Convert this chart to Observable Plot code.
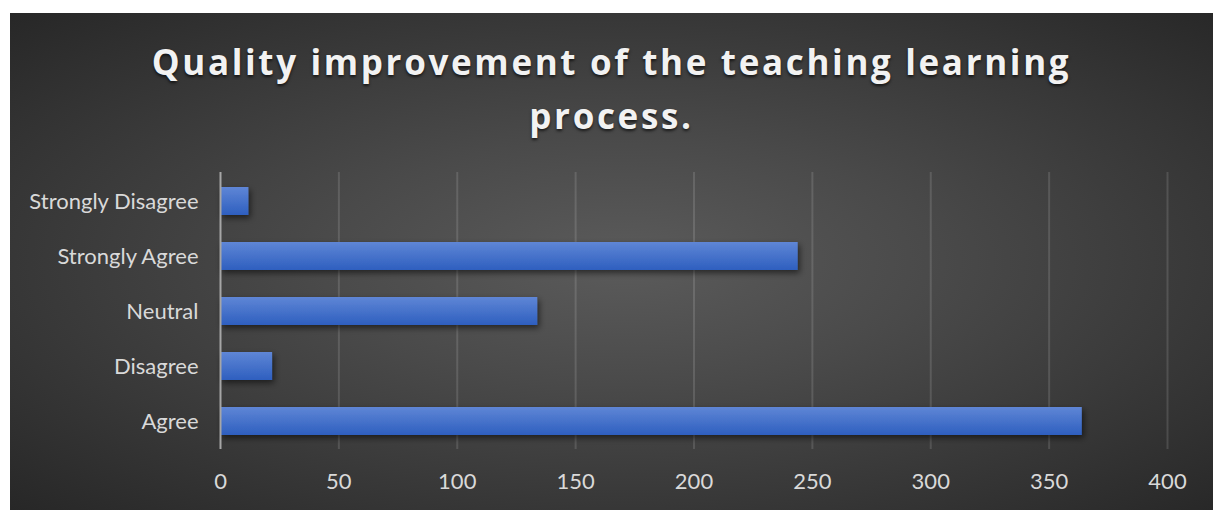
<!DOCTYPE html>
<html>
<head>
<meta charset="utf-8">
<script src="https://cdn.jsdelivr.net/npm/d3@7"></script>
<script src="https://cdn.jsdelivr.net/npm/@observablehq/plot@0.6"></script>
<style>
  html, body { margin: 0; padding: 0; background: #ffffff; }
  #page { position: relative; width: 1213px; height: 510px; overflow: hidden; background: #ffffff; }
  #panel { position: absolute; left: 10px; top: 13px; width: 1203px; height: 497px;
    background: radial-gradient(ellipse farthest-corner at 51% 50%, #5b5b5b 0%, #4a4a4a 35%, #272727 100%); }
  #title { position: absolute; left: 10px; top: 35px; width: 1203px; text-align: center;
    font-family: "Open Sans", sans-serif; font-weight: 700; font-size: 35px; line-height: 54px;
    letter-spacing: 2.65px; color: #f2f2f2; text-shadow: 0 2px 3px rgba(0,0,0,0.65); }
  #chart { position: absolute; left: 0; top: 150px; }
</style>
</head>
<body>
<div id="page">
  <div id="panel"></div>
  <div id="title">Quality improvement of the teaching learning<br>process.</div>
  <div id="chart"></div>
</div>
<script>
const categories = ["Agree", "Disagree", "Neutral", "Strongly Agree", "Strongly Disagree"];
const values = [364, 22, 134, 244, 12];
const xTicks = [0, 50, 100, 150, 200, 250, 300, 350, 400];
const gridTicks = [50, 100, 150, 200, 250, 300, 350, 400];

const data = categories.map((c, i) => ({category: c, value: values[i]}));
const order = categories.slice().reverse();

const plot = Plot.plot({
  width: 1213,
  height: 360,
  marginLeft: 220,
  marginRight: 46,
  marginTop: 22,
  marginBottom: 61,
  style: {background: "transparent", fontFamily: "Lato, sans-serif", fontSize: "22px", color: "#d9d9d9", overflow: "visible"},
  x: {domain: [0, 400], ticks: xTicks, label: null},
  y: {domain: order, paddingInner: 0.5, paddingOuter: 0.25, label: null},
  marks: [
    Plot.ruleX(gridTicks, {stroke: "#ffffff", strokeOpacity: 0.13, strokeWidth: 2}),
    Plot.barX(data, {x: "value", y: "category", fill: "url(#barGrad)"}),
    Plot.ruleX([0], {stroke: "#a6a6a6", strokeWidth: 2}),
    Plot.axisX({ticks: xTicks, tickSize: 0, tickPadding: 24, fontSize: 22, fill: "#d9d9d9", label: null}),
    Plot.axisY({tickSize: 0, tickPadding: 22, fontSize: 22, fill: "#d9d9d9", label: null})
  ]
});

const ns = "http://www.w3.org/2000/svg";
const defs = document.createElementNS(ns, "defs");
defs.innerHTML = `
  <linearGradient id="barGrad" x1="0" y1="0" x2="0" y2="1">
    <stop offset="0%" stop-color="#5f86d6"/>
    <stop offset="100%" stop-color="#2e5fbf"/>
  </linearGradient>
  <filter id="barShadow" x="-5%" y="-30%" width="115%" height="190%">
    <feDropShadow dx="2" dy="3" stdDeviation="3" flood-color="#000" flood-opacity="0.55"/>
  </filter>`;
plot.insertBefore(defs, plot.firstChild);
plot.querySelectorAll("g[aria-label='bar']").forEach(g => g.setAttribute("filter", "url(#barShadow)"));
document.getElementById("chart").appendChild(plot);
</script>
</body>
</html>
